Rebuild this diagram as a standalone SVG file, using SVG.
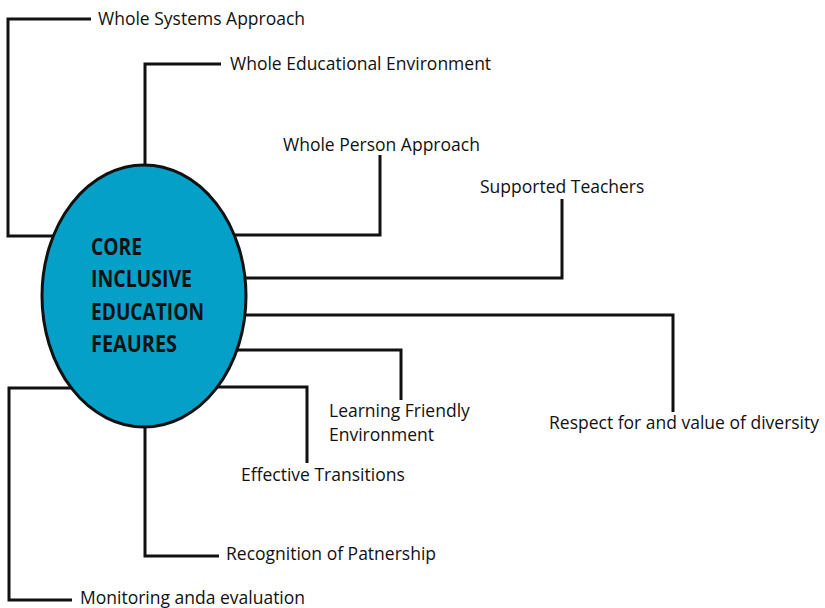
<svg xmlns="http://www.w3.org/2000/svg" width="825" height="608" viewBox="0 0 825 608">
<style>
.c{fill:none;stroke:#111;stroke-width:3;stroke-linejoin:miter}
.t{font-family:"Open Sans","Liberation Sans",sans-serif;font-size:17.5px;fill:#111}
.h{font-family:"Open Sans","Liberation Sans",sans-serif;font-size:23.5px;font-weight:bold;fill:#111}
</style>
<rect width="825" height="608" fill="#fff"/>
<g id="connectors">
<path class="c" d="M60,236 H8 V19 H91"/>
<path class="c" d="M145,166 V64 H221"/>
<path class="c" d="M230,235 H380 V155"/>
<path class="c" d="M240,278 H562 V199"/>
<path class="c" d="M240,315 H673 V412"/>
<path class="c" d="M230,350 H401 V400"/>
<path class="c" d="M210,387 H307 V463"/>
<path class="c" d="M145,425 V556 H219"/>
<path class="c" d="M80,388 H9 V600 H72"/>
</g>
<g id="core">
<ellipse cx="144" cy="296" rx="102" ry="131" fill="#05a0c8" stroke="#111" stroke-width="3"/>
<text class="h" x="91" y="255" textLength="51" lengthAdjust="spacingAndGlyphs">CORE</text>
<text class="h" x="91" y="287" textLength="101" lengthAdjust="spacingAndGlyphs">INCLUSIVE</text>
<text class="h" x="91" y="320" textLength="113" lengthAdjust="spacingAndGlyphs">EDUCATION</text>
<text class="h" x="91" y="352" textLength="86" lengthAdjust="spacingAndGlyphs">FEAURES</text>
</g>
<g id="n1"><text class="t" x="98" y="25">Whole Systems Approach</text></g>
<g id="n2"><text class="t" x="230" y="70">Whole Educational Environment</text></g>
<g id="n3"><text class="t" x="283" y="151">Whole Person Approach</text></g>
<g id="n4"><text class="t" x="480" y="193">Supported Teachers</text></g>
<g id="n5"><text class="t" x="549" y="429">Respect for and value of diversity</text></g>
<g id="n6"><text class="t" x="329" y="417">Learning Friendly</text><text class="t" x="329" y="441">Environment</text></g>
<g id="n7"><text class="t" x="241" y="481">Effective Transitions</text></g>
<g id="n8"><text class="t" x="226" y="560">Recognition of Patnership</text></g>
<g id="n9"><text class="t" x="80" y="604">Monitoring anda evaluation</text></g>
</svg>
